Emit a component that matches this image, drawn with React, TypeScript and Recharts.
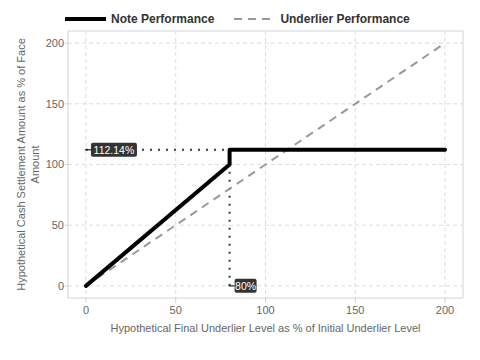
import React from "react";
import {
  ComposedChart,
  Line,
  XAxis,
  YAxis,
  CartesianGrid,
  ReferenceLine,
  ReferenceArea,
  ReferenceDot,
} from "recharts";

// payoff profile of the note vs. the underlier
const noteLevels = [0, 80, 80, 200];
const notePayout = [0, 100, 112.14, 112.14];
const underlierLevels = [0, 200];
const underlierPayout = [0, 200];

const capLevel = 112.14;
const barrierLevel = 80;
const ticks = [0, 50, 100, 150, 200];

const noteData = noteLevels.map((x, i) => ({ x, note: notePayout[i] }));
const underlierData = underlierLevels.map((x, i) => ({ x, underlier: underlierPayout[i] }));

const FONT = "'Liberation Sans', Arial, sans-serif";
const GREY = "#666";
const FRAME = "#cdd3dc";
const DOTTED = "#2c3e50";

// small dark tag with a leader tick on its left
const Tag = ({ cx, cy, text }: any) => {
  const w = text.length * 6 + 4;
  return (
    <g>
      <line x1={cx - 1} y1={cy} x2={cx + 5} y2={cy} stroke="#222" strokeWidth={1.2} />
      <rect x={cx + 5} y={cy - 7} width={w} height={14} rx={2} fill="#333" />
      <text
        x={cx + 5 + w / 2}
        y={cy + 4}
        textAnchor="middle"
        fill="#fff"
        fontSize={10.5}
        fontFamily={FONT}
      >
        {text}
      </text>
    </g>
  );
};

const YTitle = ({ viewBox }: any) => {
  const cy = viewBox.y + viewBox.height / 2;
  return (
    <text
      transform={`translate(28, ${cy}) rotate(-90)`}
      textAnchor="middle"
      fill={GREY}
      fontSize={11}
      fontFamily={FONT}
    >
      <tspan x={0} dy={-3}>Hypothetical Cash Settlement Amount as % of Face</tspan>
      <tspan x={0} dy={14}>Amount</tspan>
    </text>
  );
};

const Legend = () => (
  <div
    style={{
      position: "absolute",
      top: 12,
      left: 65,
      display: "flex",
      alignItems: "center",
      fontFamily: FONT,
      fontWeight: 700,
      fontSize: 12,
      color: "#333",
    }}
  >
    <svg width={41} height={10}>
      <line x1={0} y1={5} x2={41} y2={5} stroke="#000" strokeWidth={4} />
    </svg>
    <span style={{ marginLeft: 5 }}>Note Performance</span>
    <svg width={36} height={10} style={{ marginLeft: 20 }}>
      <line x1={0} y1={5} x2={36} y2={5} stroke="#999" strokeWidth={2} strokeDasharray="8 6" />
    </svg>
    <span style={{ marginLeft: 10 }}>Underlier Performance</span>
  </div>
);

export default function App() {
  return (
    <div style={{ position: "absolute", left: 0, top: 0, width: 480, height: 360, background: "#fff" }}>
      <Legend />
      <ComposedChart
        width={480}
        height={360}
        margin={{ top: 31, right: 17, bottom: 0, left: 0 }}
      >
        <CartesianGrid stroke="#ddd" strokeDasharray="4 3" horizontalValues={ticks} verticalValues={ticks} />
        <XAxis
          type="number"
          dataKey="x"
          domain={[-10, 210]}
          ticks={ticks}
          height={62}
          axisLine={false}
          tickLine={{ stroke: FRAME }}
          tickSize={5}
          tick={{ fill: GREY, fontSize: 11, fontFamily: FONT }}
          tickMargin={3}
          label={{
            value: "Hypothetical Final Underlier Level as % of Initial Underlier Level",
            position: "insideTop",
            offset: 26,
            fill: GREY,
            fontSize: 11,
            fontFamily: FONT,
          }}
          allowDataOverflow
        />
        <YAxis
          type="number"
          domain={[-10, 210]}
          ticks={ticks}
          width={68}
          axisLine={false}
          tickLine={{ stroke: FRAME }}
          tickSize={3}
          tick={{ fill: GREY, fontSize: 11, fontFamily: FONT }}
          tickMargin={1}
          label={<YTitle />}
          allowDataOverflow
        />
        <ReferenceArea x1={-10} x2={210} y1={-10} y2={210} fill="none" stroke={FRAME} strokeWidth={1} />
        <ReferenceLine
          segment={[{ x: 0, y: capLevel }, { x: barrierLevel, y: capLevel }]}
          stroke={DOTTED}
          strokeWidth={2}
          strokeDasharray="2 6"
        />
        <ReferenceLine
          segment={[{ x: barrierLevel, y: 0 }, { x: barrierLevel, y: capLevel }]}
          stroke={DOTTED}
          strokeWidth={2}
          strokeDasharray="2 6"
        />
        <Line
          data={underlierData}
          dataKey="underlier"
          stroke="#999"
          strokeWidth={2}
          strokeDasharray="8 6"
          dot={false}
          isAnimationActive={false}
        />
        <Line
          data={noteData}
          dataKey="note"
          stroke="#000"
          strokeWidth={4}
          strokeLinejoin="round"
          strokeLinecap="round"
          dot={false}
          isAnimationActive={false}
        />
        <ReferenceDot
          x={0}
          y={capLevel}
          r={0}
          shape={(p: any) => <Tag cx={p.cx} cy={p.cy} text={`${capLevel}%`} />}
        />
        <ReferenceDot
          x={barrierLevel}
          y={0}
          r={0}
          shape={(p: any) => <Tag cx={p.cx} cy={p.cy} text={`${barrierLevel}%`} />}
        />
      </ComposedChart>
    </div>
  );
}
